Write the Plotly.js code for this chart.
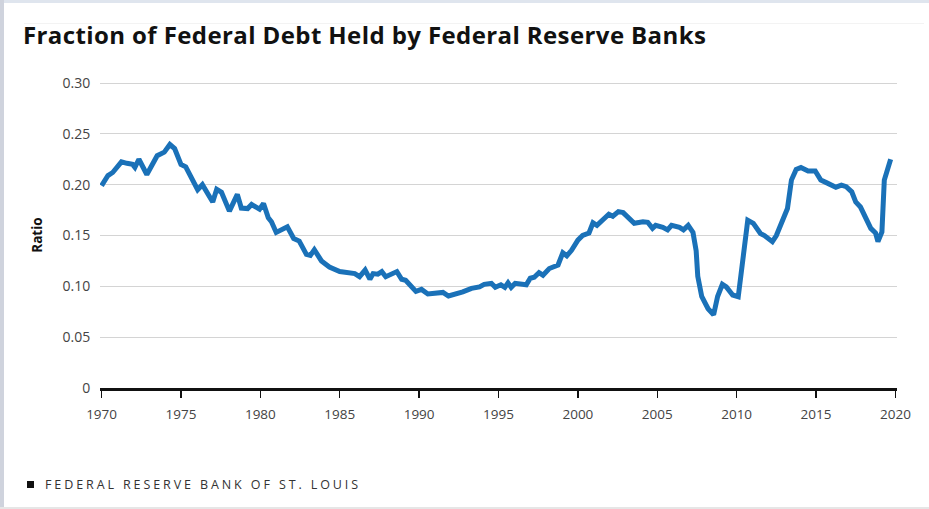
<!DOCTYPE html>
<html>
<head>
<meta charset="utf-8">
<script src="https://cdn.plot.ly/plotly-3.0.1.min.js"></script>
<style>
  html, body { margin: 0; padding: 0; background: #fff; }
  #wrap { position: relative; width: 929px; height: 509px; overflow: hidden; }
  #chart { position: absolute; left: 0; top: 0; width: 929px; height: 509px; }
  #topbar { position: absolute; left: 0; top: 0; width: 929px; height: 3px; background: #dfe5ee; }
  #leftbar { position: absolute; left: 0; top: 0; width: 4px; height: 509px; background: #cfd3dd; }
  #rule { position: absolute; left: 24px; top: 23px; width: 900px; height: 1px; background: #f3f3f3; }
  #botbar { position: absolute; left: 0; top: 507px; width: 929px; height: 2px; background: #e6e6e6; }
  #footer { position: absolute; left: 27px; top: 476px; font-family: "Open Sans", sans-serif; font-size: 12.5px; letter-spacing: 2.9px; color: #333; white-space: nowrap; }
  #footer .sq { display: inline-block; width: 7px; height: 7px; background: #111; margin-right: 11px; vertical-align: 1px; }
  .gtitle { letter-spacing: 0.4px; }
</style>
</head>
<body>
<div id="wrap">
  <div id="chart"></div>
  <div id="topbar"></div>
  <div id="leftbar"></div>
  <div id="rule"></div>
  <div id="botbar"></div>
  <div id="footer"><span class="sq"></span>FEDERAL RESERVE BANK OF ST. LOUIS</div>
</div>
<script>
const years = [
  1970.0, 1970.4, 1970.7, 1971.25, 1971.6, 1971.95, 1972.1, 1972.35, 1972.85, 1973.5,
  1973.95, 1974.3, 1974.6, 1975.0, 1975.3, 1975.7, 1976.05, 1976.35, 1977.0, 1977.25,
  1977.55, 1978.05, 1978.55, 1978.8, 1979.2, 1979.45, 1979.95, 1980.2, 1980.5, 1980.7,
  1981.0, 1981.7, 1982.1, 1982.45, 1982.9, 1983.15, 1983.4, 1983.85, 1984.35, 1985.0,
  1985.3, 1985.95, 1986.25, 1986.6, 1986.9, 1987.1, 1987.4, 1987.65, 1987.9, 1988.25,
  1988.6, 1988.9, 1989.15, 1989.8, 1990.15, 1990.55, 1991.1, 1991.5, 1991.85, 1992.35,
  1992.75, 1993.3, 1993.8, 1994.1, 1994.55, 1994.8, 1995.15, 1995.4, 1995.6, 1995.8,
  1996.05, 1996.75, 1997.0, 1997.25, 1997.55, 1997.8, 1998.2, 1998.75, 1999.05, 1999.3,
  1999.6, 2000.0, 2000.3, 2000.7, 2000.95, 2001.2, 2001.65, 2001.95, 2002.2, 2002.55,
  2002.85, 2003.55, 2004.1, 2004.4, 2004.7, 2004.9, 2005.35, 2005.65, 2005.9, 2006.4,
  2006.65, 2006.95, 2007.25, 2007.45, 2007.55, 2007.8, 2008.2, 2008.55, 2008.8, 2009.1,
  2009.35, 2009.75, 2010.1, 2010.4, 2010.7, 2011.05, 2011.5, 2011.75, 2012.25, 2012.5,
  2012.85, 2013.2, 2013.45, 2013.75, 2014.05, 2014.5, 2014.95, 2015.3, 2015.65, 2015.95,
  2016.25, 2016.6, 2016.9, 2017.25, 2017.5, 2017.8, 2018.15, 2018.45, 2018.75, 2018.9,
  2019.15, 2019.3, 2019.7
];
const ratio = [
  0.199, 0.209, 0.212, 0.2225, 0.221, 0.220, 0.217, 0.225, 0.210, 0.2285,
  0.232, 0.2395, 0.2355, 0.220, 0.2175, 0.206, 0.195, 0.200, 0.183, 0.1955,
  0.1925, 0.174, 0.1905, 0.177, 0.1765, 0.1805, 0.176, 0.1815, 0.1675, 0.1635,
  0.153, 0.1585, 0.147, 0.1445, 0.1315, 0.1305, 0.136, 0.125, 0.119, 0.1145,
  0.1135, 0.1125, 0.1095, 0.116, 0.107, 0.1125, 0.112, 0.1145, 0.1095, 0.1125,
  0.1145, 0.107, 0.106, 0.095, 0.097, 0.0925, 0.094, 0.094, 0.0905, 0.0925,
  0.0945, 0.098, 0.0995, 0.102, 0.103, 0.099, 0.1015, 0.099, 0.1035, 0.099,
  0.103, 0.1015, 0.108, 0.109, 0.1135, 0.111, 0.1175, 0.121, 0.133, 0.130,
  0.1355, 0.1455, 0.150, 0.1525, 0.1625, 0.160, 0.166, 0.171, 0.169, 0.1735,
  0.1725, 0.162, 0.1635, 0.163, 0.157, 0.160, 0.158, 0.1555, 0.160, 0.158,
  0.1555, 0.160, 0.153, 0.135, 0.110, 0.090, 0.078, 0.072, 0.090, 0.102,
  0.0995, 0.0915, 0.0898, 0.126, 0.165, 0.162, 0.152, 0.150, 0.144, 0.150,
  0.165, 0.1765, 0.2045, 0.215, 0.217, 0.2135, 0.2135, 0.2045, 0.202, 0.1995,
  0.1975, 0.1995, 0.198, 0.193, 0.183, 0.178, 0.165, 0.157, 0.1525, 0.144,
  0.1535, 0.2045, 0.225
];
const xTickVals = [1970, 1975, 1980, 1985, 1990, 1995, 2000, 2005, 2010, 2015, 2020];
const yTickVals = [0, 0.05, 0.10, 0.15, 0.20, 0.25, 0.30];
const yTickText = ["0", "0.05", "0.10", "0.15", "0.20", "0.25", "0.30"];

const trace = {
  x: years, y: ratio, type: "scatter", mode: "lines",
  line: { color: "#1a71b8", width: 5, shape: "linear" },
  hoverinfo: "skip"
};

const layout = {
  width: 929, height: 509,
  paper_bgcolor: "rgba(0,0,0,0)", plot_bgcolor: "rgba(0,0,0,0)",
  margin: { l: 100.4, r: 31.6, t: 82, b: 121 },
  showlegend: false,
  title: {
    text: "<b>Fraction of Federal Debt Held by Federal Reserve Banks</b>",
    font: { family: "Open Sans, sans-serif", size: 24, color: "#111" },
    xref: "container", yref: "container",
    x: 23 / 929, xanchor: "left", y: 1 - 36 / 509, yanchor: "middle"
  },
  xaxis: {
    range: [1969.9, 2020.1],
    tickvals: xTickVals, ticktext: xTickVals.map(String),
    showgrid: false, zeroline: false,
    showline: true, linecolor: "#111", linewidth: 2.5,
    ticks: "outside", ticklen: 7, tickwidth: 1.3, tickcolor: "#111",
    ticklabelstandoff: 5,
    tickfont: { family: "Open Sans, sans-serif", size: 13.5, color: "#444" }
  },
  yaxis: {
    range: [0, 0.301],
    tickvals: yTickVals, ticktext: yTickText,
    showgrid: true, gridcolor: "#d4d4d4", gridwidth: 1,
    zeroline: false, showline: false,
    ticks: "outside", ticklen: 6, tickcolor: "rgba(0,0,0,0)",
    tickfont: { family: "Open Sans, sans-serif", size: 14, color: "#444" },
    title: {
      text: "<b>Ratio</b>",
      font: { family: "Open Sans, sans-serif", size: 13.5, color: "#111" },
      standoff: 16
    }
  }
};

Plotly.newPlot("chart", [trace], layout, { staticPlot: true, displayModeBar: false });
</script>
</body>
</html>
